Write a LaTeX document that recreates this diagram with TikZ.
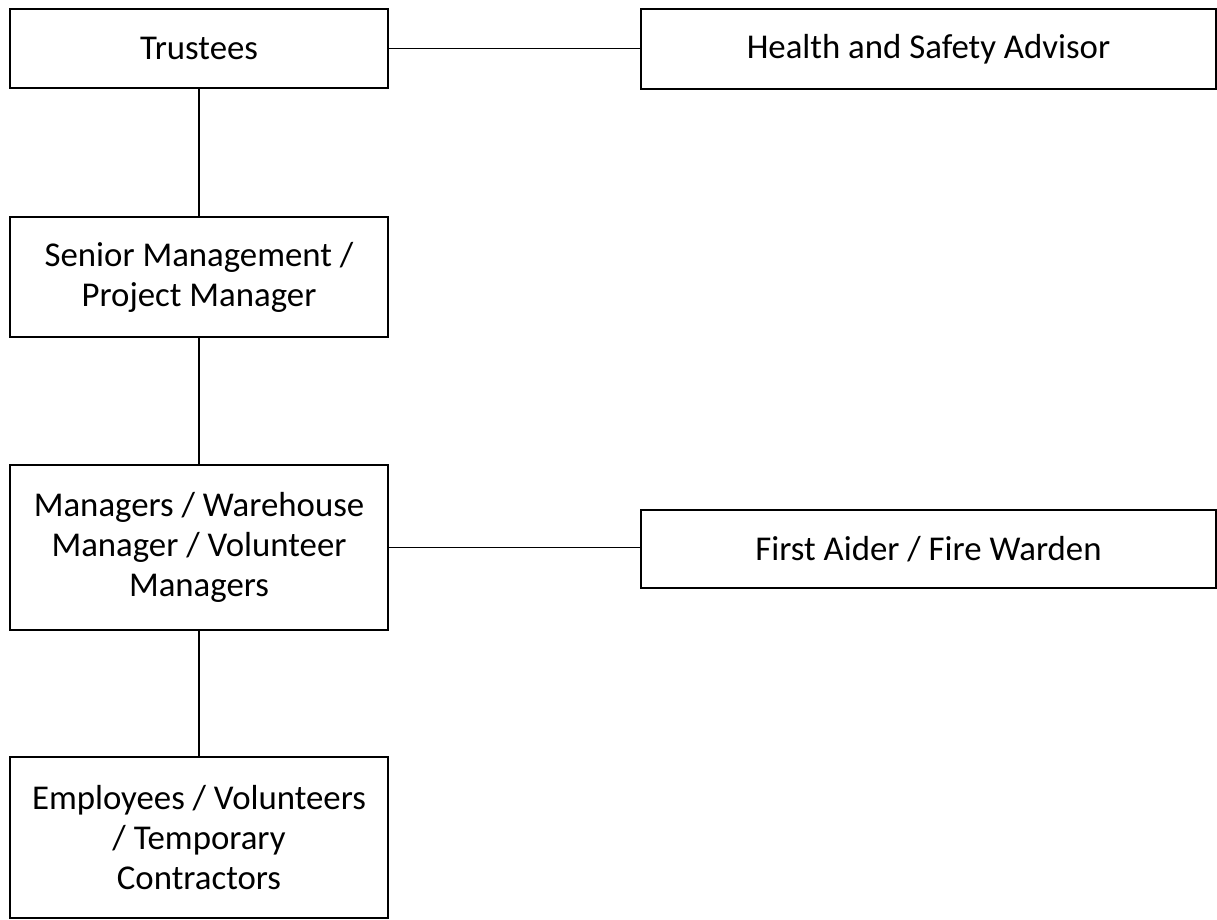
\documentclass[tikz,border=0pt]{standalone}
\usepackage{fontspec}
\setmainfont{Carlito}
\begin{document}
\begin{tikzpicture}[x=0.5pt, y=-0.5pt,
    every node/.style={font=\fontsize{17.4}{20}\selectfont},
    rolebox/.style={draw, line width=1.2pt, align=center, inner sep=0pt, minimum width=189pt},
    link/.style={line width=0.7pt}]
    \useasboundingbox (0,0) rectangle (1217,920);
    % left column: the line of management
    \node[rolebox, minimum height=39.5pt] (trustees) at (199,48.5) {Trustees};
    \node[rolebox, minimum height=60pt] (senior) at (199,277) {Senior Management /\\Project Manager};
    \node[rolebox, minimum height=82.5pt] (managers) at (199,547.5) {Managers / Warehouse\\Manager / Volunteer\\Managers};
    \node[rolebox, minimum height=80.5pt] (staff) at (199,837.5) {Employees / Volunteers\\/ Temporary\\Contractors};
    % right column: advisory roles
    \node[rolebox, minimum width=287.5pt, minimum height=40pt] (advisor) at (928.5,49) {Health and Safety Advisor};
    \node[rolebox, minimum width=287.5pt, minimum height=39pt] (firstaid) at (928.5,549) {First Aider / Fire Warden};
    \draw[link] (trustees) -- (senior);
    \draw[link] (senior) -- (managers);
    \draw[link] (managers) -- (staff);
    \draw[link] (trustees.east) -- (trustees.east -| advisor.west);
    \draw[link] (managers.east) -- (managers.east -| firstaid.west);
\end{tikzpicture}
\end{document}
